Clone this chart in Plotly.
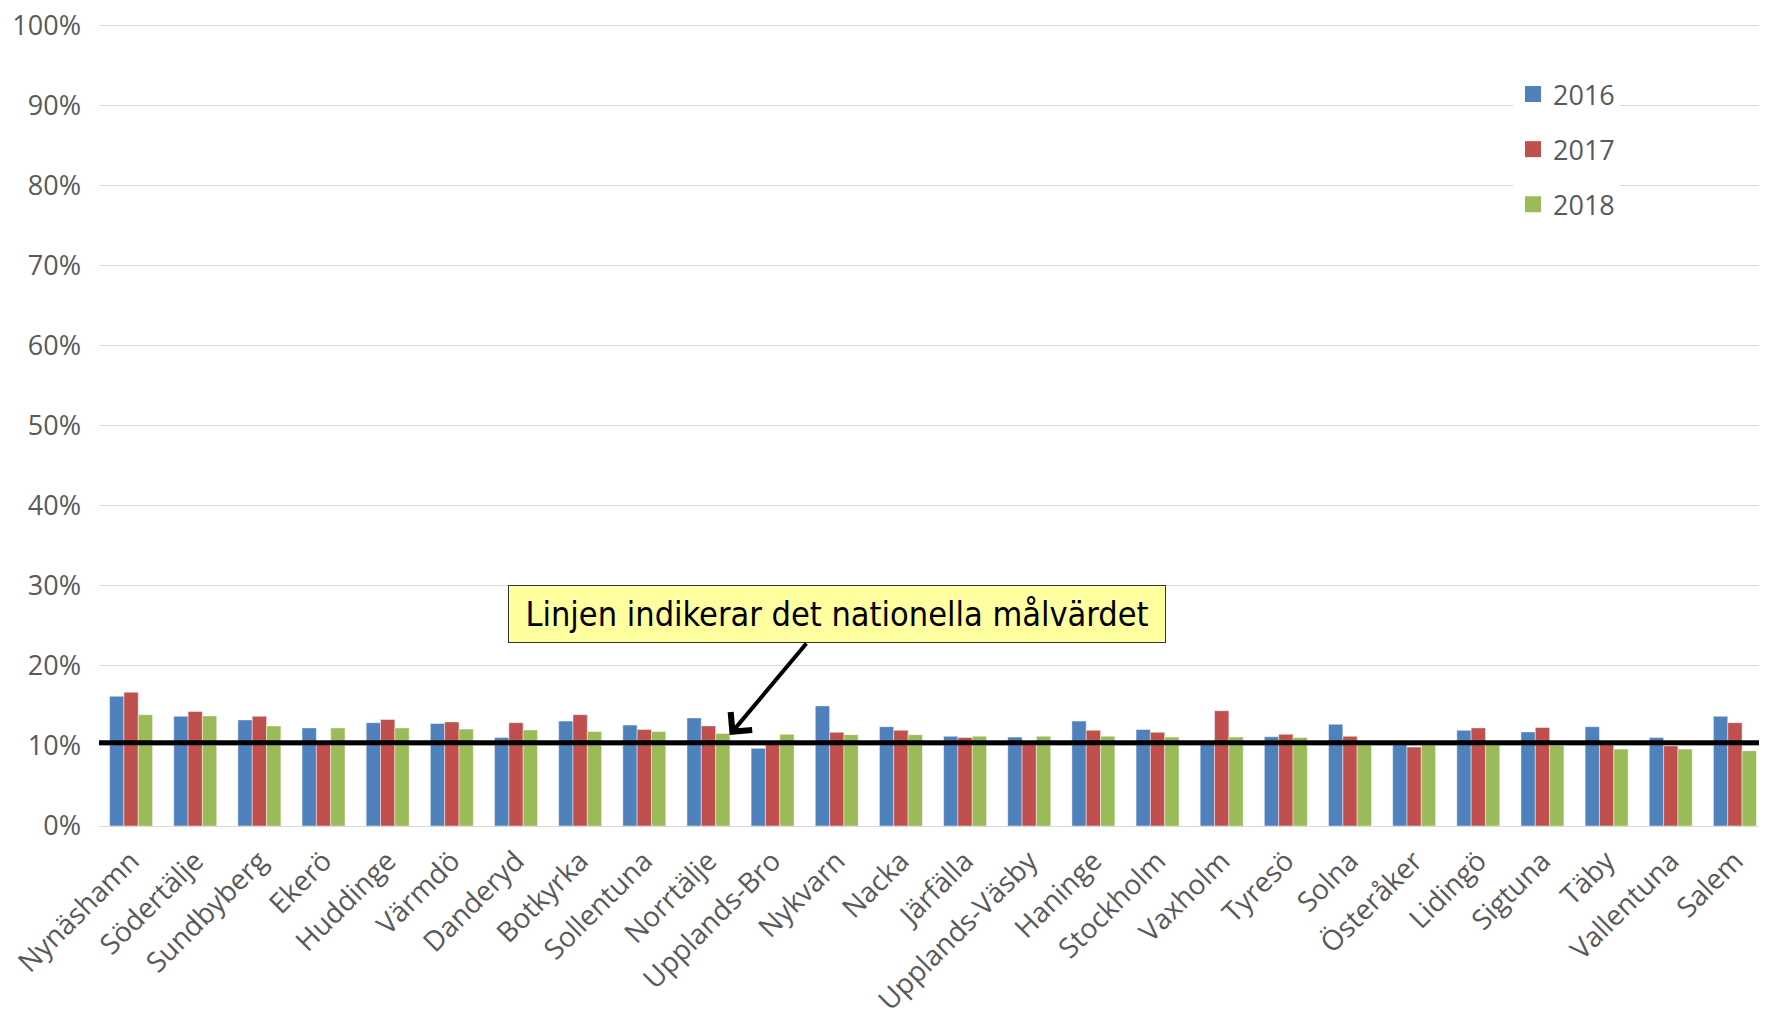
import plotly.graph_objects as go

categories = ["Nynäshamn", "Södertälje", "Sundbyberg", "Ekerö", "Huddinge", "Värmdö",
              "Danderyd", "Botkyrka", "Sollentuna", "Norrtälje", "Upplands-Bro", "Nykvarn",
              "Nacka", "Järfälla", "Upplands-Väsby", "Haninge", "Stockholm", "Vaxholm",
              "Tyresö", "Solna", "Österåker", "Lidingö", "Sigtuna", "Täby", "Vallentuna", "Salem"]

v2016 = [16.2, 13.7, 13.25, 12.25, 12.9, 12.8, 11.05, 13.1, 12.6, 13.5, 9.7, 15.0,
         12.4, 11.2, 11.1, 13.1, 12.05, 10.4, 11.15, 12.7, 10.3, 11.95, 11.75, 12.4, 11.05, 13.7]
v2017 = [16.7, 14.3, 13.7, 10.4, 13.3, 13.0, 12.9, 13.9, 12.05, 12.5, 10.4, 11.7,
         11.95, 11.05, 10.4, 11.95, 11.7, 14.4, 11.45, 11.2, 9.85, 12.25, 12.3, 10.4, 10.0, 12.9]
v2018 = [13.9, 13.75, 12.5, 12.25, 12.25, 12.1, 12.0, 11.8, 11.8, 11.55, 11.45, 11.4,
         11.4, 11.2, 11.2, 11.2, 11.1, 11.1, 11.05, 10.5, 10.2, 10.2, 10.1, 9.6, 9.6, 9.4]

years = ["2016", "2017", "2018"]
colors = ["#4F81BD", "#C0504D", "#9BBB59"]
target = 10.4
y_ticks = list(range(0, 101, 10))
y_ticktext = [f"{v}%" for v in y_ticks]
note_text = "Linjen indikerar det nationella målvärdet"

FONT = "Open Sans, Lato, sans-serif"
GREY = "#595959"

# page body has an 8px margin; 0% at page y 826, 100% at page y 25, plot x 99..1767
W, H = 1767, 1013
YMAX = 100.4
PX_PER_PCT = 8.01
PH = round(PX_PER_PCT * YMAX)
T = 826 - 8 - PH
L = 91
PW = 1668
B = H - T - PH

fig = go.Figure()
for yr, vals, col in zip(years, [v2016, v2017, v2018], colors):
    fig.add_trace(go.Bar(x=categories, y=vals, name=yr,
                         marker=dict(color=col, line=dict(width=1, color="rgba(255,255,255,0.45)")),
                         showlegend=False))
for yr, col in zip(years, colors):
    fig.add_trace(go.Scatter(x=[None], y=[None], mode="markers", name=yr, legendgroup=yr,
                             marker=dict(symbol="square", size=16, color=col)))

fig.add_shape(type="line", xref="paper", x0=0, x1=1, yref="y", y0=target, y1=target,
              line=dict(color="black", width=5), layer="above")

fig.add_annotation(xref="paper", yref="paper", x=(837 - 99) / PW, y=(826 - 614) / PH,
                   text=note_text, showarrow=False,
                   font=dict(family="Liberation Sans Narrow, Arial Narrow, DejaVu Sans Condensed, sans-serif",
                             size=34, color="black"),
                   bgcolor="#FFFF9F", bordercolor="#333333", borderwidth=1, borderpad=3,
                   width=650, height=50, align="center", valign="middle",
                   xanchor="center", yanchor="middle")
fig.add_annotation(x=9.33, y=11.36, xref="x", yref="y", text="", showarrow=True,
                   ax=78, ay=-93, arrowhead=4, arrowwidth=4, arrowsize=1.35, arrowcolor="black")

fig.update_layout(
    width=W, height=H,
    margin=dict(l=L, r=W - L - PW, t=T, b=B, autoexpand=False),
    paper_bgcolor="white", plot_bgcolor="white",
    barmode="group", bargap=0.33, bargroupgap=0,
    font=dict(family=FONT, size=28, color=GREY),
    legend=dict(x=(1513 - 99) / PW, xanchor="left", y=(826 - 70) / PH, yanchor="top",
                bgcolor="white", font=dict(size=27, color=GREY), tracegroupgap=17,
                itemsizing="trace"),
)
fig.update_xaxes(tickangle=-45, showgrid=False, showline=False, ticks="",
                 ticklabelstandoff=12, tickfont=dict(size=28, color=GREY), automargin=False)
fig.update_yaxes(range=[0, YMAX], tickvals=y_ticks, ticktext=y_ticktext, showgrid=True,
                 gridcolor="#D9D9D9", gridwidth=1.3, zeroline=True, zerolinecolor="#D9D9D9",
                 zerolinewidth=1.3, ticklabelstandoff=17, tickfont=dict(size=27, color=GREY),
                 ticklabeloverflow="allow", automargin=False)

fig.write_html("out.html")
